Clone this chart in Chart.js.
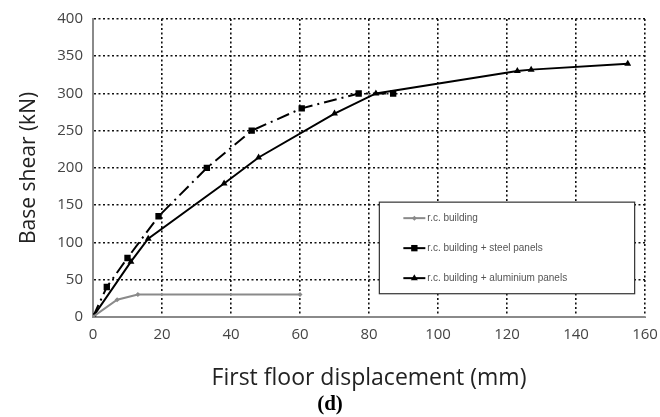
<!DOCTYPE html>
<html>
<head>
<meta charset="utf-8">
<script src="https://cdn.jsdelivr.net/npm/chart.js@4.4.0/dist/chart.umd.min.js"></script>
<style>
  html, body { margin: 0; padding: 0; background: #fff; }
  #wrap { width: 660px; height: 417px; }
</style>
</head>
<body>
<div id="wrap"><canvas id="chart" width="660" height="417"></canvas></div>
<script>
// valori
const rcX = [0, 7, 13, 60];
const rcY = [0, 23, 30, 30];
const steelX = [0, 4, 10, 19, 33, 46, 60.5, 77, 87];
const steelY = [0, 40, 79, 135, 200, 250, 280, 300, 300];
const aluX = [0, 11, 16, 38, 48, 70, 82, 123, 127, 155];
const aluY = [0, 74, 105, 179, 214, 273, 300, 330, 332, 340];
const seriesNames = ['r.c. building', 'r.c. building + steel panels', 'r.c. building + aluminium panels'];
const xTicks = [0, 20, 40, 60, 80, 100, 120, 140, 160];
const yTicks = [0, 50, 100, 150, 200, 250, 300, 350, 400];

function pts(xs, ys) {
    return xs.map((x, i) => ({ x: x, y: ys[i] }));
}

// legenda dentro l'area del grafico, disegnata a mano
const boxLegend = {
    id: 'boxLegend',
    afterDatasetsDraw(chart) {
        const ctx = chart.ctx;
        const xs = chart.scales.x, ys = chart.scales.y;
        const left = xs.getPixelForValue(83), right = xs.getPixelForValue(157);
        const top = ys.getPixelForValue(154), bottom = ys.getPixelForValue(31);
        ctx.save();
        ctx.fillStyle = '#fff';
        ctx.fillRect(left, top, right - left, bottom - top);
        ctx.strokeStyle = '#333';
        ctx.lineWidth = 1.2;
        ctx.strokeRect(left, top, right - left, bottom - top);
        ctx.font = '10px "Liberation Sans Narrow", "Liberation Sans", sans-serif';
        ctx.textBaseline = 'middle';
        chart.data.datasets.forEach((ds, i) => {
            const y = top + 16 + i * 30;
            const x0 = left + 24;
            ctx.strokeStyle = ds.borderColor;
            ctx.lineWidth = 2;
            ctx.setLineDash([]);
            ctx.beginPath();
            ctx.moveTo(x0, y);
            ctx.lineTo(x0 + 22, y);
            ctx.stroke();
            ctx.fillStyle = ds.pointBackgroundColor;
            ctx.strokeStyle = ds.pointBackgroundColor;
            Chart.helpers.drawPoint(ctx, {
                pointStyle: ds.pointStyle, radius: ds.pointRadius, rotation: 0, borderWidth: 0
            }, x0 + 11, y);
            ctx.fillStyle = '#555';
            ctx.fillText(seriesNames[i], x0 + 24, y);
        });
        ctx.restore();
    }
};

const tickFont = { family: '"Open Sans", sans-serif', size: 15 };

new Chart(document.getElementById('chart'), {
    type: 'scatter',
    data: {
        datasets: [
            {
                label: seriesNames[0], data: pts(rcX, rcY), showLine: true,
                borderColor: '#8a8a8a', backgroundColor: '#8a8a8a', pointBackgroundColor: '#8a8a8a',
                borderWidth: 2, pointStyle: 'rectRot', pointRadius: 2.5, pointBorderWidth: 0
            },
            {
                label: seriesNames[1], data: pts(steelX, steelY), showLine: true,
                borderColor: '#000', backgroundColor: '#000', pointBackgroundColor: '#000',
                borderWidth: 2, borderDash: [13, 5, 2, 5], pointStyle: 'rect', pointRadius: 4.5, pointBorderWidth: 0
            },
            {
                label: seriesNames[2], data: pts(aluX, aluY), showLine: true,
                borderColor: '#000', backgroundColor: '#000', pointBackgroundColor: '#000',
                borderWidth: 2, pointStyle: 'triangle', pointRadius: 4, pointBorderWidth: 0
            }
        ]
    },
    options: {
        responsive: false,
        animation: false,
        layout: { padding: { left: 0, right: 0, top: 17, bottom: 0 } },
        plugins: {
            legend: { display: false },
            tooltip: { enabled: false },
            title: {
                display: true, position: 'bottom', text: '(d)', color: '#000',
                font: { family: '"Liberation Serif", serif', size: 21, weight: 'bold' },
                padding: { top: 0, bottom: 0 }
            }
        },
        scales: {
            x: {
                type: 'linear', min: 0, max: 160,
                afterBuildTicks: (s) => { s.ticks = xTicks.map(v => ({ value: v })); },
                afterFit: (s) => { s.height = 75; s.paddingRight = 15; },
                grid: { color: '#111', lineWidth: 1.6, tickLength: 0 },
                border: { color: '#8a8a8a', width: 2, dash: [2, 2.5] },
                ticks: { color: '#444', font: tickFont, padding: 9 },
                title: {
                    display: true, text: 'First floor displacement (mm)', color: '#222',
                    font: { family: '"Open Sans", sans-serif', size: 23 }, padding: { top: 0, bottom: 0 }
                }
            },
            y: {
                type: 'linear', min: 0, max: 400,
                afterBuildTicks: (s) => { s.ticks = yTicks.map(v => ({ value: v })); },
                afterFit: (s) => { s.width = 93; },
                grid: { color: '#111', lineWidth: 1.6, tickLength: 0 },
                border: { color: '#8a8a8a', width: 2, dash: [2, 2.5] },
                ticks: { color: '#444', font: tickFont, padding: 10 },
                title: {
                    display: true, text: 'Base shear (kN)', color: '#222',
                    font: { family: '"Open Sans", sans-serif', size: 21 }, padding: { top: 16, bottom: 0 }
                }
            }
        }
    },
    plugins: [boxLegend]
});
</script>
</body>
</html>
